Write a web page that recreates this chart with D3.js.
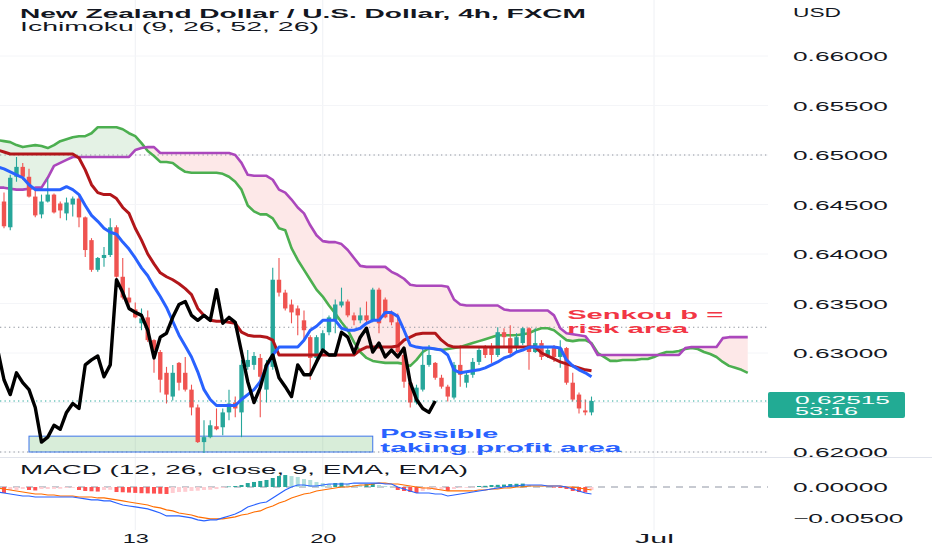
<!DOCTYPE html>
<html><head><meta charset="utf-8">
<script src="https://cdn.jsdelivr.net/npm/d3@7"></script>
<style>
html,body{margin:0;padding:0;background:#fff;}
svg{display:block;font-family:"Liberation Sans",Arial,sans-serif;}
</style></head><body>
<svg id="chart" width="932" height="550"></svg>
<script>
// ---------------- DATA ----------------
// candles, bar index 0..94
const open = [
 .6453,.6427,.6478,.6488,.6478,.6458,.6440,.6453,.6460,.6451,
 .6441,.6450,.6456,.6437,.6414,.6384,.6396,.6399,.6427,.6377,
 .6356,.6344,.6330,.6336,.6313,.6301,.6280,.6256,.6290,.6280,
 .6263,.6245,.6210,.6215,.6226,.6225,.6240,.6250,.6240,.6286,
 .6288,.6295,.6263,.6286,.6374,.6361,.6349,.6345,.6333,.6316,
 .6295,.6303,.6321,.6333,.6348,.6352,.6338,.6333,.6338,.6333,
 .6364,.6354,.6341,.6331,.6298,.6270,.6250,.6263,.6288,.6290,
 .6275,.6266,.6255,.6288,.6270,.6278,.6291,.6305,.6305,.6298,
 .6321,.6315,.6306,.6310,.6325,.6301,.6310,.6298,.6305,.6296,
 .6305,.6270,.6258,.6242,.6240];
const high = [
 .6462,.6480,.6498,.6492,.6486,.6465,.6460,.6476,.6461,.6453,
 .6457,.6458,.6460,.6438,.6416,.6397,.6407,.6436,.6429,.6396,
 .6366,.6351,.6345,.6343,.6314,.6303,.6286,.6288,.6291,.6296,
 .6268,.6248,.6232,.6232,.6244,.6244,.6263,.6256,.6293,.6303,
 .6301,.6299,.6293,.6386,.6396,.6364,.6354,.6348,.6343,.6318,
 .6318,.6323,.6338,.6354,.6366,.6354,.6341,.6346,.6352,.6366,
 .6366,.6356,.6343,.6340,.6300,.6273,.6268,.6306,.6308,.6291,
 .6278,.6268,.6291,.6308,.6280,.6295,.6306,.6308,.6310,.6326,
 .6325,.6328,.6320,.6326,.6326,.6325,.6313,.6306,.6308,.6313,
 .6306,.6280,.6260,.6253,.6256];
const low = [
 .6426,.6424,.6473,.6475,.6457,.6437,.6436,.6452,.6441,.6436,
 .6434,.6438,.6427,.6397,.6382,.6382,.6387,.6397,.6376,.6354,
 .6346,.6335,.6323,.6311,.6280,.6260,.6249,.6252,.6262,.6261,
 .6237,.6209,.6199,.6214,.6222,.6217,.6232,.6235,.6215,.6283,
 .6283,.6235,.6250,.6283,.6357,.6343,.6330,.6318,.6313,.6273,
 .6293,.6301,.6318,.6320,.6346,.6336,.6328,.6330,.6331,.6331,
 .6320,.6335,.6328,.6298,.6265,.6245,.6248,.6261,.6286,.6273,
 .6264,.6251,.6253,.6266,.6265,.6275,.6288,.6295,.6290,.6296,
 .6306,.6298,.6300,.6308,.6283,.6300,.6293,.6295,.6291,.6285,
 .6268,.6251,.6239,.6237,.6237];
const close = [
 .6428,.6477,.6488,.6478,.6458,.6439,.6453,.6460,.6442,.6444,
 .6452,.6456,.6437,.6404,.6384,.6396,.6399,.6427,.6377,.6356,
 .6351,.6336,.6335,.6313,.6303,.6273,.6258,.6280,.6270,.6263,
 .6245,.6210,.6215,.6227,.6223,.6240,.6249,.6244,.6288,.6293,
 .6297,.6276,.6288,.6374,.6361,.6345,.6341,.6338,.6323,.6295,
 .6316,.6320,.6336,.6349,.6352,.6338,.6333,.6338,.6333,.6364,
 .6330,.6336,.6331,.6301,.6271,.6250,.6265,.6288,.6298,.6275,
 .6266,.6256,.6288,.6278,.6278,.6291,.6303,.6298,.6298,.6321,
 .6316,.6300,.6316,.6325,.6301,.6310,.6296,.6303,.6296,.6305,
 .6270,.6253,.6244,.6240,.62515];

// Ichimoku lines, first value sits at bar -1 (just left of the visible edge)
const tenkan = [.6488,
 .6486,.6483,.6480,.6477,.6470,.6465,.6465,.6465,.6465,.6465,
 .6468,.6465,.6460,.6449,.6439,.6433,.6426,.6422,.6420,.6412,
 .6405,.6396,.6386,.6378,.6367,.6357,.6346,.6332,.6318,.6307,
 .6296,.6281,.6263,.6253,.6247,.6247,.6247,.6247,.6253,.6258,
 .6263,.6271,.6286,.6298,.6306,.6306,.6306,.6306,.6313,.6323,
 .6327,.6333,.6333,.6333,.6325,.6323,.6323,.6325,.6330,.6333,
 .6333,.6341,.6341,.6337,.6323,.6308,.6306,.6305,.6305,.6304,
 .6303,.6298,.6283,.6280,.6281,.6282,.6283,.6285,.6288,.6291,
 .6295,.6297,.6301,.6303,.6306,.6306,.6306,.6306,.6306,.6305,
 .6293,.6287,.6283,.6280,.6276];
const kijun = [.6505,
 .6503,.6501,.6501,.6501,.6501,.6501,.6501,.6501,.6501,.6501,
 .6501,.6501,.6497,.6485,.6470,.6462,.6460,.6460,.6456,.6447,
 .6441,.6426,.6414,.6400,.6390,.6381,.6377,.6374,.6370,.6365,
 .6359,.6345,.6338,.6333,.6332,.6332,.6331,.6330,.6321,.6318,
 .6317,.6317,.6316,.6313,.6298,.6298,.6298,.6298,.6298,.6298,
 .6298,.6298,.6298,.6298,.6298,.6298,.6298,.6303,.6306,.6306,
 .6306,.6306,.6306,.6307,.6313,.6316,.6319,.6320,.6320,.6320,
 .6313,.6308,.6306,.6306,.6306,.6306,.6306,.6306,.6306,.6306,
 .6306,.6306,.6306,.6306,.6306,.6306,.6300,.6297,.6294,.6291,
 .6289,.6287,.6285,.6283,.6282];
// leading spans, bar -1 .. 119
const senkouA = [.6515,
 .6514,.6513,.6510,.6508,.6509,.6510,.6509,.6507,.6510,.6514,
 .6516,.6518,.6519,.6519,.6522,.6528,.6528,.6528,.6528,.6526,
 .6522,.6519,.6512,.6504,.6499,.6493,.6493,.6492,.6487,.6483,
 .6482,.6482,.6482,.6482,.6482,.6481,.6478,.6473,.6465,.6449,
 .6443,.6440,.6440,.6436,.6426,.6424,.6406,.6394,.6384,.6374,
 .6364,.6357,.6348,.6340,.6331,.6323,.6311,.6301,.6295,.6292,
 .6291,.6290,.6290,.6290,.6289,.6287,.6293,.6301,.6305,.6304,
 .6303,.6304,.6305,.6306,.6308,.6310,.6312,.6314,.6316,.6318,
 .6318,.6318,.6318,.6319,.6320,.6323,.6325,.6325,.6323,.6318,
 .6313,.6312,.6313,.6313,.6310,.6300,.6296,.6292,.6292,.6293,
 .6293,.6293,.6294,.6294,.6296,.6299,.6301,.6301,.6302,.6304,
 .6305,.6304,.6301,.6299,.6296,.6291,.6287,.6285,.6283,.6280];
const senkouB = [.6467,
 .6467,.6466,.6465,.6465,.6466,.6467,.6467,.6477,.6489,.6492,
 .6495,.6498,.6498,.6498,.6498,.6498,.6498,.6498,.6498,.6498,
 .6498,.6505,.6507,.6508,.6508,.6502,.6502,.6502,.6502,.6502,
 .6502,.6502,.6502,.6502,.6502,.6502,.6502,.6500,.6492,.6480,
 .6479,.6479,.6479,.6475,.6465,.6462,.6455,.6447,.6441,.6429,
 .6419,.6413,.6412,.6412,.6410,.6404,.6396,.6388,.6387,.6387,
 .6387,.6387,.6382,.6379,.6375,.6369,.6368,.6368,.6368,.6368,
 .6368,.6367,.6354,.6349,.6348,.6348,.6348,.6348,.6348,.6348,
 .6344,.6343,.6343,.6343,.6343,.6343,.6343,.6343,.6338,.6325,
 .6320,.6319,.6318,.6317,.6309,.6298,.6298,.6298,.6298,.6298,
 .6298,.6298,.6298,.6298,.6298,.6298,.6298,.6298,.6298,.6305,
 .6306,.6306,.6306,.6306,.6306,.6315,.6316,.6316,.6316,.6316];

// MACD pane, lines from bar -1, histogram from bar 0
const macdLine = [-0.00081,
 -0.00097,-0.00113,-0.00129,-0.00145,-0.00145,-0.00161,-0.00161,-0.00161,-0.00161,-0.00161,
 -0.00161,-0.00161,-0.00177,-0.00193,-0.00209,-0.00209,-0.00225,-0.00225,-0.00258,-0.00290,
 -0.00306,-0.00322,-0.00338,-0.00354,-0.00386,-0.00419,-0.00467,-0.00467,-0.00467,-0.00483,
 -0.00499,-0.00531,-0.00547,-0.00531,-0.00531,-0.00499,-0.00467,-0.00435,-0.00386,-0.00322,
 -0.00290,-0.00258,-0.00242,-0.00177,-0.00113,-0.00048,0.00000,0.00032,0.00032,0.00016,
 0.00016,0.00032,0.00048,0.00048,0.00048,0.00048,0.00064,0.00064,0.00064,0.00064,
 0.00064,0.00048,0.00048,0.00000,-0.00032,-0.00064,-0.00097,-0.00097,-0.00097,-0.00113,
 -0.00113,-0.00145,-0.00129,-0.00113,-0.00097,-0.00081,-0.00064,-0.00048,-0.00032,-0.00016,
 0.00000,0.00016,0.00016,0.00032,0.00032,0.00032,0.00032,0.00016,0.00016,0.00016,
 0.00000,-0.00032,-0.00064,-0.00097,-0.00113];
const signalLine = [-0.00016,
 -0.00032,-0.00048,-0.00064,-0.00081,-0.00097,-0.00113,-0.00113,-0.00129,-0.00129,-0.00145,
 -0.00145,-0.00145,-0.00161,-0.00161,-0.00161,-0.00177,-0.00177,-0.00193,-0.00209,-0.00225,
 -0.00242,-0.00258,-0.00274,-0.00290,-0.00322,-0.00338,-0.00370,-0.00386,-0.00419,-0.00435,
 -0.00451,-0.00483,-0.00499,-0.00515,-0.00515,-0.00515,-0.00499,-0.00483,-0.00451,-0.00435,
 -0.00403,-0.00386,-0.00338,-0.00306,-0.00258,-0.00225,-0.00177,-0.00145,-0.00113,-0.00097,
 -0.00064,-0.00048,-0.00032,-0.00016,0.00000,0.00000,0.00016,0.00032,0.00032,0.00048,
 0.00064,0.00064,0.00048,0.00048,0.00032,0.00016,0.00000,-0.00016,-0.00016,-0.00032,
 -0.00048,-0.00064,-0.00064,-0.00064,-0.00064,-0.00064,-0.00048,-0.00048,-0.00032,-0.00032,
 -0.00016,-0.00016,0.00000,0.00000,0.00016,0.00016,0.00016,0.00016,0.00016,0.00016,
 0.00000,0.00000,-0.00016,-0.00032,-0.00048];
const histogram = [
 -0.00097,-0.00048,-0.00048,-0.00032,-0.00048,-0.00056,-0.00032,-0.00032,-0.00030,-0.00028,
 -0.00016,-0.00014,-0.00048,-0.00064,-0.00069,-0.00074,-0.00048,-0.00046,-0.00081,-0.00085,
 -0.00090,-0.00095,-0.00100,-0.00103,-0.00106,-0.00109,-0.00113,-0.00097,-0.00081,-0.00078,
 -0.00064,-0.00060,-0.00048,-0.00045,-0.00032,-0.00016,0.00008,0.00016,0.00032,0.00064,
 0.00081,0.00097,0.00113,0.00145,0.00177,0.00193,0.00177,0.00161,0.00129,0.00113,
 0.00081,0.00064,0.00048,0.00064,0.00068,0.00048,0.00032,0.00029,0.00048,0.00052,
 0.00032,0.00016,0.00008,-0.00048,-0.00064,-0.00081,-0.00097,-0.00064,-0.00048,-0.00045,
 -0.00040,-0.00064,-0.00032,-0.00016,-0.00013,-0.00008,0.00016,0.00019,0.00032,0.00035,
 0.00039,0.00048,0.00052,0.00055,0.00032,0.00016,0.00013,0.00008,-0.00008,-0.00016,
 -0.00032,-0.00064,-0.00081,-0.00089,-0.00048];

const priceTicks = [0.66, 0.655, 0.65, 0.645, 0.64, 0.635, 0.63, 0.62];
const gridPrices = [0.66, 0.655, 0.65, 0.645, 0.64, 0.635, 0.63, 0.625, 0.62];
const macdTicks = [0, -0.005];
const timeTickBars = [21, 51, 104];
const timeTickLabels = ["13", "20", "Jul"];
const dottedLevels = [0.65, 0.6326, 0.62];
const lastPrice = 0.62515;
const countdown = "53:16";
const laggingShift = 25;
const profitZone = {bar0: 4, bar1: 59, p0: 0.6200, p1: 0.6216};

// ---------------- SCALES ----------------
const svg = d3.select("#chart");
const plotRight = 768;
const x = d3.scaleLinear().domain([-1, 122]).range([-2.25, 766.5]);
const yP = d3.scaleLinear().domain([0.62, 0.66]).range([452, 56]);
const yM = d3.scaleLinear().domain([-0.005, 0]).range([518, 487]);

const defs = svg.append("defs");
defs.append("clipPath").attr("id","clipP").append("rect")
  .attr("x",0).attr("y",0).attr("width",plotRight).attr("height",457);
defs.append("clipPath").attr("id","clipM").append("rect")
  .attr("x",0).attr("y",458).attr("width",plotRight).attr("height",72);

function stretch(sel, len){
  sel.attr("textLength", len).attr("lengthAdjust","spacingAndGlyphs");
  return sel;
}

// ---------------- GRID ----------------
const grid = svg.append("g");
grid.selectAll("line.v").data(timeTickBars).join("line").attr("class","v")
  .attr("x1",d=>x(d)).attr("x2",d=>x(d)).attr("y1",0).attr("y2",530)
  .attr("stroke","#eef0f4").attr("stroke-width",1);
grid.selectAll("line.h").data(gridPrices).join("line").attr("class","h")
  .attr("x1",0).attr("x2",plotRight).attr("y1",d=>yP(d)).attr("y2",d=>yP(d))
  .attr("stroke","#f4f5f8").attr("stroke-width",1);
svg.append("line").attr("x1",0).attr("x2",932).attr("y1",457.5).attr("y2",457.5)
  .attr("stroke","#e0e3eb").attr("stroke-width",1);

// ---------------- PRICE PANE ----------------
const pp = svg.append("g").attr("clip-path","url(#clipP)");

// cloud
let gPath = "", rPath = "";
const P = (b,p) => x(b).toFixed(2) + "," + yP(p).toFixed(2);
for (let k = 0; k < senkouA.length - 1; k++){
  const b0 = k - 1, b1 = k;
  const a0 = senkouA[k], a1 = senkouA[k+1], c0 = senkouB[k], c1 = senkouB[k+1];
  const d0 = a0 - c0, d1 = a1 - c1;
  if (d0 * d1 < 0){
    const t = d0 / (d0 - d1), bm = b0 + t, pm = a0 + t * (a1 - a0);
    const s1 = "M" + P(b0,a0) + "L" + P(bm,pm) + "L" + P(b0,c0) + "Z";
    const s2 = "M" + P(bm,pm) + "L" + P(b1,a1) + "L" + P(b1,c1) + "Z";
    if (d0 > 0) gPath += s1; else rPath += s1;
    if (d1 > 0) gPath += s2; else rPath += s2;
  } else {
    const s = "M" + P(b0,a0) + "L" + P(b1,a1) + "L" + P(b1,c1) + "L" + P(b0,c0) + "Z";
    if (d0 + d1 >= 0) gPath += s; else rPath += s;
  }
}
pp.append("path").attr("d", gPath).attr("fill","#e4f2e5");
pp.append("path").attr("d", rPath).attr("fill","#fde8e8");

// dotted horizontal levels
pp.selectAll("line.lvl").data(dottedLevels).join("line").attr("class","lvl")
  .attr("x1",0).attr("x2",plotRight).attr("y1",d=>yP(d)).attr("y2",d=>yP(d))
  .attr("stroke","#8f949e").attr("stroke-width",1).attr("stroke-dasharray","1.3,3.2");

// profit zone box
pp.append("rect")
  .attr("x", x(profitZone.bar0)).attr("y", yP(profitZone.p1))
  .attr("width", x(profitZone.bar1) - x(profitZone.bar0))
  .attr("height", yP(profitZone.p0) - yP(profitZone.p1))
  .attr("fill","rgba(76,175,80,0.22)").attr("stroke","#3d75ea").attr("stroke-width",1);

const lineP = d3.line().x(d=>x(d[0])).y(d=>yP(d[1]));
const fromMinus1 = arr => arr.map((v,k)=>[k-1, v]);

// leading spans
pp.append("path").attr("d", lineP(fromMinus1(senkouA))).attr("fill","none")
  .attr("stroke","#4caf50").attr("stroke-width",2.6).attr("stroke-linejoin","round");
pp.append("path").attr("d", lineP(fromMinus1(senkouB))).attr("fill","none")
  .attr("stroke","#ab47bc").attr("stroke-width",2.6).attr("stroke-linejoin","round");

// candles
const candles = open.map((o,i)=>({i, o, h: high[i], l: low[i], c: close[i]}));
const up = "#26a69a", dn = "#ef5350";
const cg = pp.append("g");
cg.selectAll("line.wick").data(candles).join("line").attr("class","wick")
  .attr("x1",d=>x(d.i)).attr("x2",d=>x(d.i))
  .attr("y1",d=>yP(d.h)).attr("y2",d=>yP(d.l))
  .attr("stroke",d=>d.c>=d.o?up:dn).attr("stroke-width",1.1);
cg.selectAll("rect.body").data(candles).join("rect").attr("class","body")
  .attr("x",d=>x(d.i)-2.2).attr("width",4.4)
  .attr("y",d=>yP(Math.max(d.o,d.c)))
  .attr("height",d=>Math.max(1, Math.abs(yP(d.o)-yP(d.c))))
  .attr("fill",d=>d.c>=d.o?up:dn);

// current price dotted line
pp.append("line").attr("x1",0).attr("x2",plotRight)
  .attr("y1",yP(lastPrice)).attr("y2",yP(lastPrice))
  .attr("stroke",up).attr("stroke-width",1).attr("stroke-dasharray","1.3,3.2");

// base, conversion, lagging
pp.append("path").attr("d", lineP(fromMinus1(kijun))).attr("fill","none")
  .attr("stroke","#b2161a").attr("stroke-width",3).attr("stroke-linejoin","round");
pp.append("path").attr("d", lineP(fromMinus1(tenkan))).attr("fill","none")
  .attr("stroke","#2962ff").attr("stroke-width",3).attr("stroke-linejoin","round");
const lagging = close.map((v,k)=>[k-laggingShift, v]).filter(d=>d[0] >= -1);
pp.append("path").attr("d", lineP(lagging)).attr("fill","none")
  .attr("stroke","#000").attr("stroke-width",3.4).attr("stroke-linejoin","round");

// annotations
const annSenkou = svg.append("g").attr("font-weight","bold").attr("fill","#f23645").attr("font-size",12.5);
stretch(annSenkou.append("text").attr("x", x(90.1)).attr("y", yP(0.6333) - 1.5).text("Senkou b ="), 156);
stretch(annSenkou.append("text").attr("x", x(90.1)).attr("y", yP(0.6333) + 12.6).text("risk area"), 121);
const annProfit = svg.append("g").attr("font-weight","bold").attr("fill","#2962ff").attr("font-size",12.5);
stretch(annProfit.append("text").attr("x", x(60.2)).attr("y", yP(0.6211) - 3.4).text("Possible"), 118);
stretch(annProfit.append("text").attr("x", x(60.2)).attr("y", yP(0.6211) + 10.7).text("taking profit area"), 241);

// ---------------- MACD PANE ----------------
const mp = svg.append("g").attr("clip-path","url(#clipM)");
mp.append("line").attr("x1",0).attr("x2",plotRight).attr("y1",yM(0)).attr("y2",yM(0))
  .attr("stroke","#b5b9c2").attr("stroke-width",1.4).attr("stroke-dasharray","7,6");
const histData = histogram.map((v,i)=>({i, v, prev: i>0 ? histogram[i-1] : 0}));
function histColor(d){
  if (d.v >= 0) return d.v >= d.prev ? "#26a69a" : "#b2dfdb";
  return d.v < d.prev ? "#ff5252" : "#ffcdd2";
}
mp.selectAll("rect.hist").data(histData).join("rect").attr("class","hist")
  .attr("x",d=>x(d.i)-2).attr("width",4)
  .attr("y",d=>Math.min(yM(d.v), yM(0)))
  .attr("height",d=>Math.max(0.6, Math.abs(yM(d.v)-yM(0))))
  .attr("fill",histColor);
const lineM = d3.line().x(d=>x(d[0])).y(d=>yM(d[1]));
mp.append("path").attr("d", lineM(fromMinus1(signalLine))).attr("fill","none")
  .attr("stroke","#ff6d00").attr("stroke-width",1.2);
mp.append("path").attr("d", lineM(fromMinus1(macdLine))).attr("fill","none")
  .attr("stroke","#2962ff").attr("stroke-width",1.2);

// ---------------- AXES ----------------
const charW = s => s.length * 13.55 + (s[0] === "\u2212" ? 2 : 0);
const pAxis = svg.append("g").attr("transform","translate(793,0)")
  .call(d3.axisRight(yP).tickValues(priceTicks).tickFormat(d3.format(".5f")).tickSize(0).tickPadding(0));
pAxis.select(".domain").remove();
pAxis.attr("font-family",null).attr("font-size",null);
pAxis.selectAll("text").attr("font-size",12.5).attr("fill","#131722").attr("dy","0.37em")
  .each(function(){ stretch(d3.select(this), charW(this.textContent)); });

const mAxis = svg.append("g").attr("transform","translate(793,0)")
  .call(d3.axisRight(yM).tickValues(macdTicks).tickFormat(d3.format(".5f")).tickSize(0).tickPadding(0));
mAxis.select(".domain").remove();
mAxis.attr("font-family",null).attr("font-size",null);
mAxis.selectAll("text").attr("font-size",12.5).attr("fill","#131722").attr("dy","0.37em")
  .each(function(){ stretch(d3.select(this), charW(this.textContent)); });

const tAxis = svg.append("g").attr("transform","translate(0,530)")
  .call(d3.axisBottom(x).tickValues(timeTickBars).tickFormat((d,i)=>timeTickLabels[i]).tickSize(0).tickPadding(4));
tAxis.select(".domain").remove();
tAxis.attr("font-family",null).attr("font-size",null);
tAxis.selectAll("text").attr("font-size",12.5).attr("fill","#131722")
  .each(function(){ stretch(d3.select(this), this.textContent.length * 12.6 + 1); });

// current price label
const yl = yP(lastPrice);
svg.append("rect").attr("x",768).attr("y",yl-9).attr("width",137).attr("height",26)
  .attr("rx",2).attr("fill","#22ab94");
stretch(svg.append("text").attr("x",795).attr("y",yl+3).attr("font-size",11.5).attr("fill","#fff")
  .text(d3.format(".5f")(lastPrice)), 95);
stretch(svg.append("text").attr("x",795).attr("y",yl+14).attr("font-size",11.5).attr("fill","#fff")
  .text(countdown), 63);

// ---------------- TITLES ----------------
stretch(svg.append("text").attr("x",20).attr("y",18).attr("font-size",12.5).attr("font-weight","bold")
  .attr("fill","#131722").text("New Zealand Dollar / U.S. Dollar, 4h, FXCM"), 566);
stretch(svg.append("text").attr("x",20).attr("y",31).attr("font-size",12.5)
  .attr("fill","#131722").text("Ichimoku (9, 26, 52, 26)"), 299);
stretch(svg.append("text").attr("x",793).attr("y",17).attr("font-size",12.5)
  .attr("fill","#131722").text("USD"), 48);
stretch(svg.append("text").attr("x",20).attr("y",474).attr("font-size",12.5)
  .attr("fill","#131722").text("MACD (12, 26, close, 9, EMA, EMA)"), 448);
</script>
</body></html>
